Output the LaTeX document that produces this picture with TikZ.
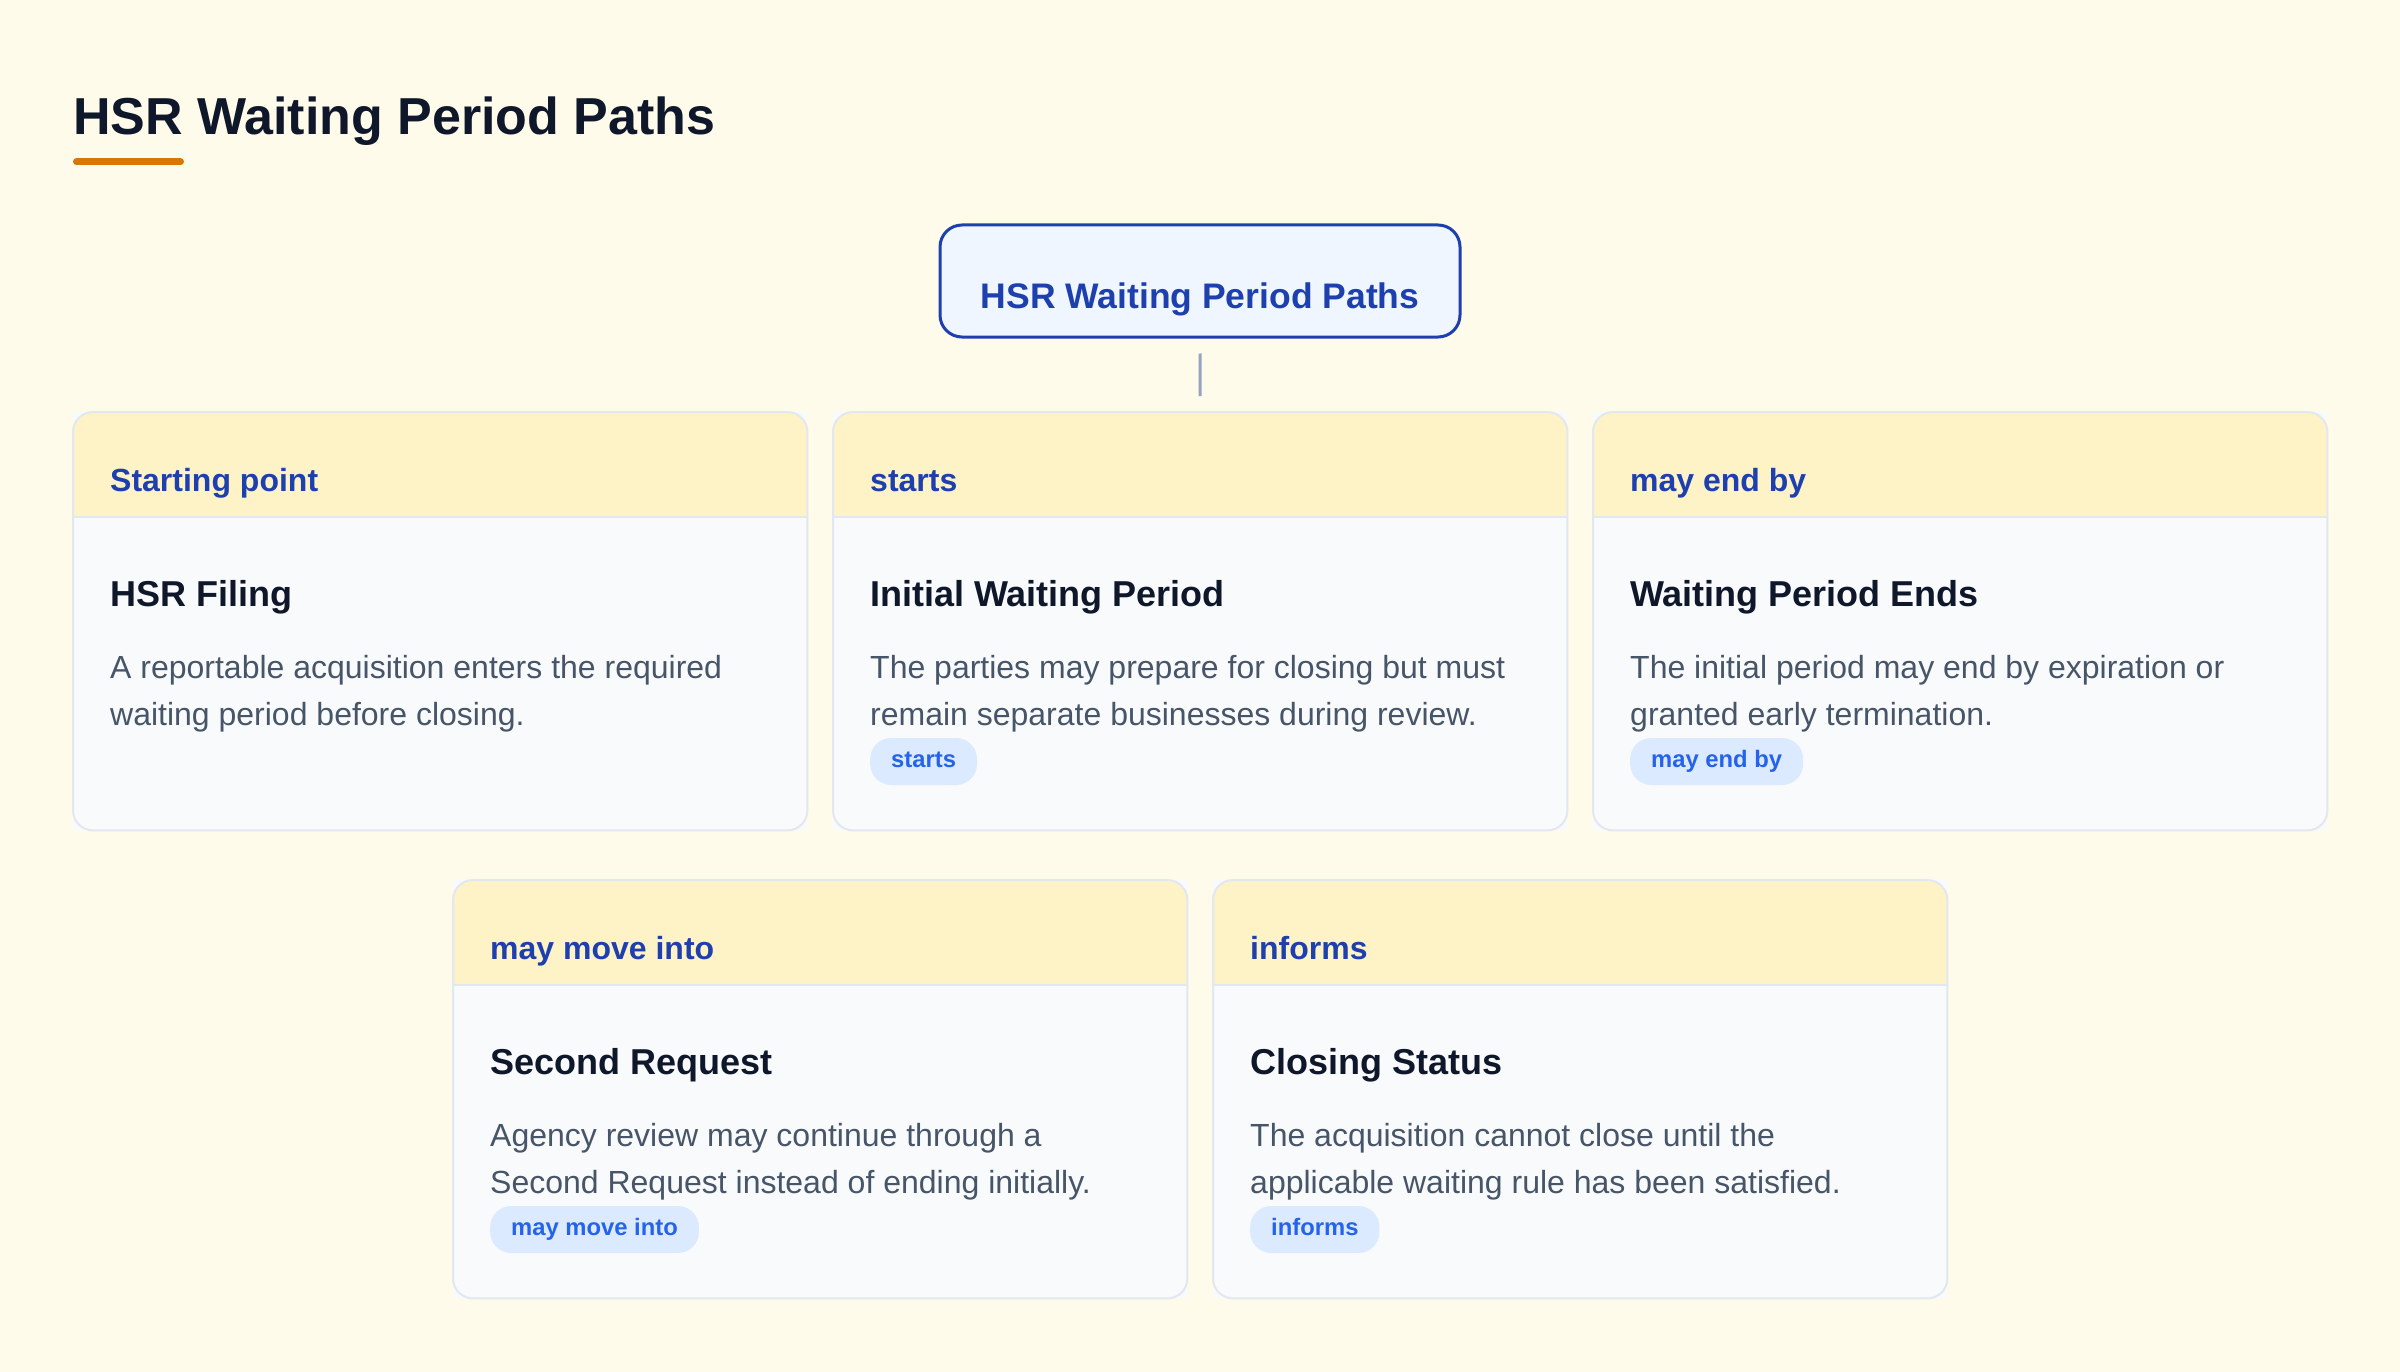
\documentclass[tikz,border=0pt]{standalone}
\usepackage{fontspec}
\setmainfont{Liberation Sans}
\definecolor{pagebg}{HTML}{FFFBEA}
\definecolor{ink}{HTML}{0F172A}
\definecolor{deepblue}{HTML}{1E40AF}
\definecolor{rootfill}{HTML}{EFF6FF}
\definecolor{headbg}{HTML}{FEF3C7}
\definecolor{bodybg}{HTML}{F8FAFC}
\definecolor{cardline}{HTML}{E2E8F0}
\definecolor{desccol}{HTML}{475569}
\definecolor{pillbg}{HTML}{DBEAFE}
\definecolor{pilltxt}{HTML}{2563EB}
\definecolor{accent}{HTML}{D97706}
\definecolor{linkcol}{HTML}{94A3C0}
\tikzset{
  cardbox/.style={rectangle, fill=bodybg, minimum width=734pt, minimum height=418pt, inner sep=0pt, anchor=north west},
  cardedge/.style={draw=cardline, line width=2pt, rounded corners=20pt},
  headtxt/.style={anchor=base west, inner sep=0pt, text=deepblue, font=\fontsize{32}{38}\selectfont\bfseries},
  titletxt/.style={anchor=base west, inner sep=0pt, text=ink, font=\fontsize{36}{44}\selectfont\bfseries},
  desctxt/.style={anchor=base west, inner sep=0pt, text=desccol, font=\fontsize{32}{40}\selectfont},
  pill/.style={anchor=west, fill=pillbg, rounded corners=21pt, inner xsep=21pt, inner ysep=0pt, minimum height=47pt, text height=17pt, text depth=6pt, text=pilltxt, font=\fontsize{23.8}{28}\selectfont\bfseries},
  rootbox/.style={rectangle, draw=deepblue, line width=3pt, fill=rootfill, rounded corners=22pt, minimum width=520pt, minimum height=112pt, text height=60pt, text depth=6pt, text=deepblue, font=\fontsize{35.5}{42}\selectfont\bfseries},
  link/.style={draw=linkcol, line width=3pt}
}
\newcommand\hsrcard[8]{%
  \node[cardbox] (#1) at (#2,#3) {};
  \begin{scope}
    \clip[rounded corners=20pt] (#2,#3) rectangle ({#2+734},{#3+418});
    \fill[headbg] (#2,#3) rectangle ({#2+734},{#3+105});
  \end{scope}
  \draw[draw=cardline, line width=2pt] (#2,{#3+105}) -- ({#2+734},{#3+105});
  \draw[cardedge] (#1.north west) rectangle (#1.south east);
  \node[headtxt] (#1h) at ({#2+37},{#3+79}) {#4};
  \node[titletxt] (#1t) at ({#2+37},{#3+194}) {#5};
  \node[desctxt] (#1a) at ({#2+37},{#3+266}) {#6};
  \node[desctxt] (#1b) at ({#2+37},{#3+313.5}) {#7};
  \if\relax\detokenize{#8}\relax\else
    \node[pill] (#1p) at ({#2+37},{#3+349.5}) {#8};
  \fi
}
\begin{document}
\begin{tikzpicture}[x=1pt, y=-1pt]
\fill[pagebg] (0,0) rectangle (2400,1372);
\useasboundingbox (0,0) rectangle (2400,1372);
% page title
\node[anchor=base west, inner sep=0pt, text=ink, font=\fontsize{52}{60}\selectfont\bfseries] (pagetitle) at (73,135) {HSR Waiting Period Paths};
\draw[accent, line width=7pt, line cap=round] (76.5,162) -- (180.5,162);
% root
\node[rootbox] (root) at (1200,281) {HSR Waiting Period Paths};
% cards
\hsrcard{cA}{73}{412}{Starting point}{HSR Filing}{A reportable acquisition enters the required}{waiting period before closing.}{}
\hsrcard{cB}{833}{412}{starts}{Initial Waiting Period}{The parties may prepare for closing but must}{remain separate businesses during review.}{starts}
\hsrcard{cC}{1593}{412}{may end by}{Waiting Period Ends}{The initial period may end by expiration or}{granted early termination.}{may end by}
\hsrcard{cD}{453}{880}{may move into}{Second Request}{Agency review may continue through a}{Second Request instead of ending initially.}{may move into}
\hsrcard{cE}{1213}{880}{informs}{Closing Status}{The acquisition cannot close until the}{applicable waiting rule has been satisfied.}{informs}
% connector
\draw[link, shorten <=15pt, shorten >=16pt] (root.south) -- (cB.north);
\end{tikzpicture}
\end{document}
